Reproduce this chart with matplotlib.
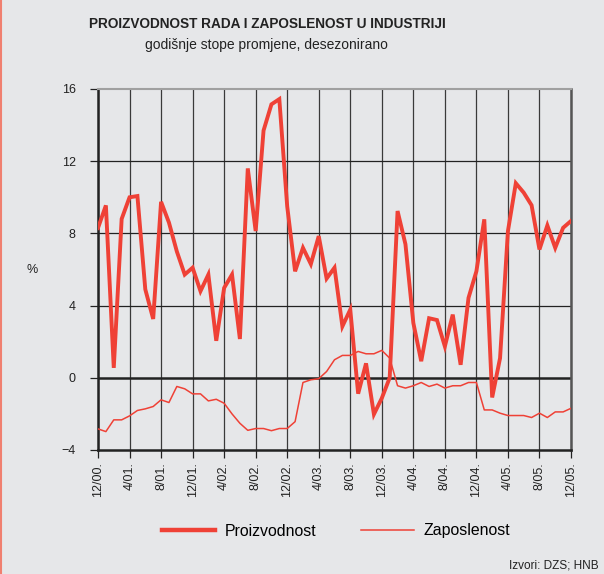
import matplotlib
matplotlib.use("Agg")
import matplotlib.pyplot as plt
from matplotlib.lines import Line2D

plt.rcParams['font.family'] = ['Liberation Sans', 'DejaVu Sans']

tick_labels = ["12/00.", "4/01.", "8/01.", "12/01.", "4/02.", "8/02.", "12/02.", "4/03.",
               "8/03.", "12/03.", "4/04.", "8/04.", "12/04.", "4/05.", "8/05.", "12/05."]

proizvodnost = [8.3, 9.55, 0.55, 8.8, 10.0, 10.07, 4.9, 3.26, 9.75, 8.6,
                7.0, 5.72, 6.1, 4.8, 5.72, 2.05, 4.98, 5.72, 2.15, 11.6,
                8.13, 13.7, 15.15, 15.44, 9.5, 5.9, 7.2, 6.3, 7.85, 5.5,
                6.1, 2.85, 3.78, -0.88, 0.8, -2.02, -1.13, 0.0, 9.24, 7.4,
                3.04, 0.92, 3.3, 3.2, 1.74, 3.5, 0.72, 4.43, 5.9, 8.78,
                -1.09, 1.09, 8.13, 10.78, 10.26, 9.56, 7.11, 8.44, 7.2, 8.31,
                8.69]

zaposlenost = [-2.83, -2.98, -2.33, -2.33, -2.11, -1.81, -1.72, -1.59, -1.22, -1.37,
               -0.48, -0.61, -0.89, -0.89, -1.28, -1.19, -1.41, -2.0, -2.52, -2.91,
               -2.81, -2.81, -2.93, -2.81, -2.81, -2.43, -0.26, -0.11, -0.05, 0.35,
               1.0, 1.24, 1.24, 1.46, 1.33, 1.33, 1.52, 1.09, -0.44, -0.57,
               -0.44, -0.26, -0.48, -0.35, -0.57, -0.44, -0.44, -0.26, -0.26, -1.78,
               -1.78, -1.96, -2.09, -2.09, -2.09, -2.2, -1.96, -2.2, -1.89, -1.89,
               -1.69]

months = list(range(len(proizvodnost)))
red = "#ef4136"
bg = "#e6e7e9"

fig = plt.figure(figsize=(6.04, 5.74), dpi=100, facecolor=bg)
ax = fig.add_axes([98/604, 1-450/574, 473/604, 361/574], facecolor=bg)

ax.set_xlim(0, 60)
ax.set_ylim(-4, 16)

# grid
for t in range(0, 61, 4):
    ax.axvline(t, color="#3a3a3a", lw=0.9, zorder=1)
for v in [4, 8, 12]:
    ax.axhline(v, color="#222222", lw=0.9, zorder=1)
ax.axhline(0, color="#222222", lw=1.8, zorder=1)

ax.plot(months, zaposlenost, color=red, lw=1.1, zorder=3)
ax.plot(months, proizvodnost, color=red, lw=2.8, zorder=4, solid_joinstyle="miter")

ax.set_xticks(range(0, 61, 4))
ax.set_xticklabels(tick_labels, rotation=90, fontsize=9, color="#222222")
ax.set_yticks([-4, 0, 4, 8, 12, 16])
ax.set_yticklabels(["\u22124", "0", "4", "8", "12", "16"], fontsize=9, color="#222222")
ax.tick_params(axis="x", length=6, width=0.9, color="#222222", pad=3)
ax.tick_params(axis="y", length=6, width=0.9, color="#222222", pad=10)

for s in ["left", "bottom"]:
    ax.spines[s].set_color("#222222")
    ax.spines[s].set_linewidth(1.8)
ax.spines["right"].set_color("#555555")
ax.spines["right"].set_linewidth(1.8)
ax.spines["top"].set_color("#a0a0a0")
ax.spines["top"].set_linewidth(1.5)

fig.text(32/604, 1-270/574, "%", fontsize=9, color="#222222", ha="center", va="center")

fig.text(267/604, 1-24/574, "PROIZVODNOST RADA I ZAPOSLENOST U INDUSTRIJI",
         fontsize=9.8, fontweight="bold", ha="center", va="center", color="#222222")
fig.text(266/604, 1-45/574, "godi\u0161nje stope promjene, desezonirano",
         fontsize=10, ha="center", va="center", color="#222222")

handles = [Line2D([], [], color=red, lw=3.2), Line2D([], [], color=red, lw=1.1)]
fig.legend(handles, ["Proizvodnost", "Zaposlenost"], loc="center",
           bbox_to_anchor=(336/604, 1-531/574), ncol=2, frameon=False,
           fontsize=11.4, handlelength=3.35, handletextpad=0.63, columnspacing=2.8)

fig.text(509/604, 1-565/574, "Izvori: DZS; HNB", fontsize=8.5, ha="left",
         va="center", color="#222222")

fig.add_artist(Line2D([0.0015, 0.0015], [0, 1], color="#f08070", lw=1.5,
                      transform=fig.transFigure))

fig.savefig("out.png", dpi=100, facecolor=bg)
